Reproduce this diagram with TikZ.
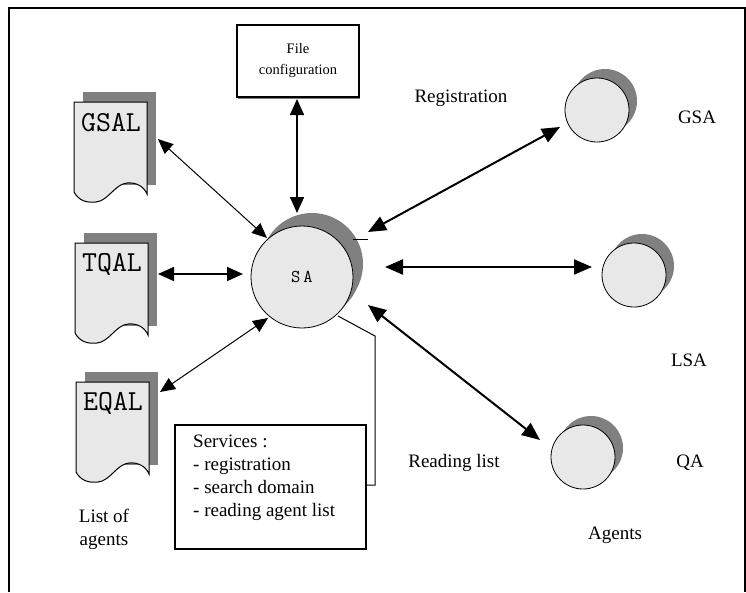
\documentclass[tikz,border=0pt]{standalone}
\usepackage{fontspec}
\setmainfont{Liberation Serif}
\usetikzlibrary{arrows.meta,shadows}

\definecolor{paper}{RGB}{232,232,232}
\definecolor{docshadow}{RGB}{128,128,128}

\newcommand\lblfont{\fontsize{19}{23}\selectfont}
\newcommand\smallfont{\fontsize{14.5}{21}\selectfont}
\newcommand\docfont{\fontsize{29}{30}\selectfont\ttfamily}
\newcommand\safont{\fontsize{18}{20}\selectfont\ttfamily}

% a list document with a wavy bottom and a shadow behind it
% #1 node name, #2 left x, #3 top y, #4 label
\newcommand\listdoc[4]{%
  \begin{scope}[shift={(#2,#3)}]
    \fill[docshadow] (9,-10) rectangle (82,83);
    \draw[line width=1pt, fill=paper]
      (0,0) -- (0,90)
      .. controls (5,99) and (13,101) .. (22,100)
      .. controls (34,99) and (41,82) .. (53,81)
      .. controls (63,80) and (70,85) .. (73,92)
      -- (73,0) -- cycle;
    \node[label text, font=\docfont] (#1) at (37,21) {#4};
  \end{scope}}

\tikzset{
  label text/.style={inner sep=0pt, font=\lblfont},
  agent/.style={circle, draw, line width=0.8pt, fill=paper, inner sep=0pt,
    minimum size=64pt,
    copy shadow={shadow xshift=8pt, shadow yshift=9pt, fill=docshadow, draw=none}},
  thinlink/.style={line width=1pt,
    {Triangle[length=15pt,width=13pt]}-{Triangle[length=15pt,width=13pt]}},
  midlink/.style={line width=1.6pt,
    {Triangle[length=16pt,width=14pt]}-{Triangle[length=16pt,width=14pt]}},
  boldlink/.style={line width=2pt,
    {Triangle[length=18pt,width=15pt]}-{Triangle[length=18pt,width=15pt]}},
}

\begin{document}
\begin{tikzpicture}[x=1pt,y=-1pt]
\useasboundingbox (0,0) rectangle (746,592);

% outer frame
\draw[line width=1.5pt] (9,592) -- (9,8) -- (745,8) -- (745,592);

% configuration file, with a thin grey edge under it
\fill[docshadow] (238,95) rectangle (360,99);
\node[draw, line width=2pt, fill=white, anchor=north west,
      minimum width=122pt, minimum height=72pt, inner sep=0pt,
      align=center, font=\smallfont] (cfg) at (236,24)
      {File\\configuration};

% list documents
\listdoc{gsal}{74}{102}{GSAL}
\listdoc{tqal}{75}{243}{TQAL}
\listdoc{eqal}{76}{382}{EQAL}

% server agent
\node[agent, minimum size=102pt, font=\safont,
      copy shadow={shadow xshift=10pt, shadow yshift=13pt, fill=docshadow, draw=none}]
      (sa) at (302,277) {S\kern3pt A};

% other agents
\node[agent] (gsa) at (597,110) {};
\node[agent] (lsa) at (634,275) {};
\node[agent] (qa)  at (583,457) {};

% services box and its callout
\node[draw, line width=1.5pt, anchor=north west, minimum width=191pt,
      minimum height=124pt, inner sep=0pt] (serv) at (174,424) {};
\node[label text, anchor=north west, align=left] (servtext) at (193,435)
  {Services :\\- registration\\- search domain\\- reading agent list};
\coordinate (c0) at (338,316);
\coordinate (c1) at (375,336);
\coordinate (c2) at (375,485);
\coordinate (c3) at (366,485);
\draw[line width=1pt] (c0) -- (c1) -- (c2) -- (c3);

% arrow end points
\coordinate (gsalR) at (158,139);
\coordinate (saGsal) at (267,238);
\coordinate (tqalR) at (158,274);
\coordinate (saTqal) at (243,274);
\coordinate (eqalR) at (160,392);
\coordinate (saEqal) at (268,318);
\coordinate (cfgB) at (297,99);
\coordinate (saCfg) at (297,213);
\coordinate (saGsa) at (368,232);
\coordinate (gsaL) at (560,127);
\coordinate (saLsa) at (385,267);
\coordinate (lsaL) at (592,267);
\coordinate (saQa) at (368,305);
\coordinate (qaL) at (540,440);
\coordinate (stubA) at (353,239);
\coordinate (stubB) at (368,239);

\draw[thinlink] (gsalR) -- (saGsal);
\draw[midlink] (tqalR) -- (saTqal);
\draw[thinlink] (eqalR) -- (saEqal);
\draw[midlink] (cfgB) -- (saCfg);
\draw[boldlink] (saGsa) -- (gsaL);
\draw[boldlink] (saLsa) -- (lsaL);
\draw[boldlink] (saQa) -- (qaL);
\draw[line width=1pt] (stubA) -- (stubB);

% labels
\node[label text] (reg) at (461,98) {Registration};
\node[label text] (gsaname) at (697,117) {GSA};
\node[label text] (lsaname) at (689,360) {LSA};
\node[label text] (qaname) at (690,463) {QA};
\node[label text] (readlist) at (454,463) {Reading list};
\node[label text] (agents) at (615,535) {Agents};
\node[label text, align=center] (listof) at (104,529) {List of\\agents};
\end{tikzpicture}
\end{document}
